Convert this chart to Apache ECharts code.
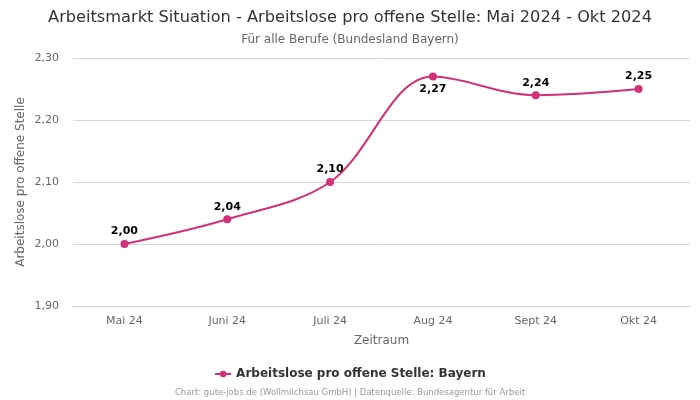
<!DOCTYPE html>
<html><head><meta charset="utf-8">
<script src="https://cdn.jsdelivr.net/npm/echarts@6/dist/echarts.min.js"></script>
<style>html,body{margin:0;padding:0;background:#fff}#c{width:700px;height:400px}</style>
</head><body><div id="c"></div>
<script>
var categories = ['Mai 24','Juni 24','Juli 24','Aug 24','Sept 24','Okt 24'];
var values = [2.00, 2.04, 2.10, 2.27, 2.24, 2.25];
var labelBelow = [false, false, false, true, false, false];
var seriesName = 'Arbeitslose pro offene Stelle: Bayern';
var color = '#d3307a';
var font = 'DejaVu Sans';

var chart = echarts.init(document.getElementById('c'));
chart.setOption({
  animation: false,
  textStyle: {fontFamily: font},
  title: [
    {text: 'Arbeitsmarkt Situation - Arbeitslose pro offene Stelle: Mai 2024 - Okt 2024', left: 'center', top: 5,
     textStyle: {fontFamily: font, fontSize: 16.2, fontWeight: 'normal', color: '#333'}},
    {text: 'Für alle Berufe (Bundesland Bayern)', left: 'center', top: 29,
     textStyle: {fontFamily: font, fontSize: 12, fontWeight: 'normal', color: '#666'}},
    {text: 'Chart: gute-jobs.de (Wollmilchsau GmbH) | Datenquelle: Bundesagentur für Arbeit', left: 'center', top: 383,
     textStyle: {fontFamily: font, fontSize: 8.5, fontWeight: 'normal', color: '#999'}}
  ],
  legend: {
    data: [seriesName], top: 363, left: 'center', itemWidth: 16, itemHeight: 8,
    textStyle: {fontFamily: font, fontSize: 12, fontWeight: 'bold', color: '#333'}
  },
  grid: {left: 73, right: 10, top: 58, bottom: 94},
  xAxis: {
    type: 'category', data: categories, boundaryGap: true,
    name: 'Zeitraum', nameLocation: 'middle', nameGap: 29,
    nameTextStyle: {fontFamily: font, fontSize: 12, color: '#666'},
    axisLine: {lineStyle: {color: '#ccd6eb'}},
    axisTick: {show: false},
    axisLabel: {fontFamily: font, fontSize: 11, color: '#666', margin: 10}
  },
  yAxis: {
    type: 'value', min: 1.9, max: 2.3, interval: 0.1,
    name: 'Arbeitslose pro offene Stelle', nameLocation: 'middle', nameGap: 46,
    nameMoveOverlap: false,
    nameTextStyle: {fontFamily: font, fontSize: 12, color: '#666'},
    axisLine: {show: false}, axisTick: {show: false},
    splitLine: {lineStyle: {color: '#d8d8d8'}},
    axisLabel: {fontFamily: font, fontSize: 11, color: '#666', margin: 14,
      formatter: function(v){ return v.toFixed(2).replace('.', ','); }}
  },
  series: [{
    name: seriesName, type: 'line', smooth: 0.35,
    data: values.map(function(v, i){
      return {value: v, label: {position: labelBelow[i] ? 'bottom' : 'top'}};
    }),
    symbol: 'circle', symbolSize: 8,
    lineStyle: {color: color, width: 2},
    itemStyle: {color: color},
    label: {show: true, fontFamily: font, fontSize: 11, fontWeight: 'bold', color: '#000', distance: 3,
      formatter: function(p){ return p.value.toFixed(2).replace('.', ','); }}
  }]
});
</script></body></html>
